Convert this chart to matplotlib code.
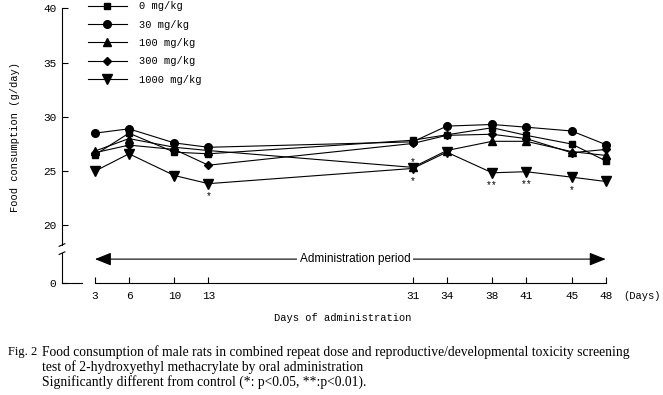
import matplotlib
matplotlib.use("Agg")
import matplotlib.pyplot as plt

# food consumption (g/day), male rats
days = [3, 6, 10, 13, 31, 34, 38, 41, 45, 48]
dose_labels = ["0 mg/kg", "30 mg/kg", "100 mg/kg", "300 mg/kg", "1000 mg/kg"]
food_0 = [26.5, 28.5, 26.75, 26.6, 27.85, 28.35, 29.0, 28.3, 27.5, 25.95]
food_30 = [28.5, 28.9, 27.6, 27.2, 27.7, 29.15, 29.3, 29.05, 28.7, 27.45]
food_100 = [26.85, 28.0, 27.2, 26.9, 25.35, 26.9, 27.75, 27.75, 26.8, 26.45]
food_300 = [26.7, 27.4, 27.0, 25.55, 27.55, 28.3, 28.4, 28.0, 26.7, 27.0]
food_1000 = [25.0, 26.6, 24.6, 23.85, 25.25, 26.75, 24.85, 24.95, 24.45, 24.05]

# significance marks vs control
sig_1000 = {13: "*", 31: "*", 38: "**", 41: "**", 45: "*"}
sig_100 = {31: "*"}

yticks = [20, 25, 30, 35, 40]
y_zero = 14.7      # where the "0" sits below the axis break
arrow_y = 16.9

mono = "Liberation Mono"
serif = "Liberation Serif"

fig = plt.figure(figsize=(6.63, 3.95), dpi=100)
ax = fig.add_axes([62 / 663, 112 / 395, 563 / 663, 274.7 / 395])
ax.set_xlim(0.1, 49.7)
ax.set_ylim(y_zero, 40)

series = [food_0, food_30, food_100, food_300, food_1000]
markers = ["s", "o", "^", "D", "v"]
msizes = [5, 5.5, 6, 4, 7]
for vals, m, ms, lab in zip(series, markers, msizes, dose_labels):
    ax.plot(days, vals, color="black", lw=0.8, marker=m, ms=ms, label=lab)

for d, s in sig_1000.items():
    ax.annotate(s, (d, food_1000[days.index(d)]), xytext=(0, -9),
                textcoords="offset points", ha="center", va="center",
                fontsize=7, family=mono)
for d, s in sig_100.items():
    ax.annotate(s, (d, food_100[days.index(d)]), xytext=(0, 4),
                textcoords="offset points", ha="center", va="center",
                fontsize=7, family=mono)

# axes styling with a broken y axis
for side in ["top", "right"]:
    ax.spines[side].set_visible(False)
ax.spines["left"].set_bounds(18.2, 40)
ax.spines["bottom"].set_bounds(days[0], days[-1])
ax.spines["left"].set_linewidth(0.8)
ax.spines["bottom"].set_linewidth(0.8)
ax.plot([0.1, 0.1], [y_zero, 17.45], color="black", lw=0.8, clip_on=False)
ax.plot([0.1, 1.85], [y_zero, y_zero], color="black", lw=0.8, clip_on=False)
for yb in [18.2, 17.45]:
    ax.plot([-0.15, 0.35], [yb - 0.12, yb + 0.12], color="black", lw=0.8, clip_on=False)

ax.set_yticks(yticks + [y_zero])
ax.set_yticklabels([str(t) for t in yticks] + ["0"])
ax.tick_params(axis="y", direction="in", length=4, width=0.8, pad=4, labelsize=8)
ax.set_xticks(days)
ax.set_xticklabels([str(d) for d in days])
ax.tick_params(axis="x", direction="in", length=4, width=0.8, pad=6, labelsize=8)
for lbl in ax.get_xticklabels() + ax.get_yticklabels():
    lbl.set_family(mono)

ax.set_ylabel("Food consumption (g/day)", family=mono, fontsize=7.5)
ax.yaxis.set_label_coords(-0.074, 0.53)
ax.set_xlabel("Days of administration", family=mono, fontsize=7.5)
ax.xaxis.set_label_coords(0.499, -0.11)
fig.text(623 / 663, 1 - 296 / 395, "(Days)", family=mono, fontsize=7.5, va="center")

# administration period arrow
ax.annotate("", xy=(days[-1], arrow_y), xytext=(days[0], arrow_y),
            arrowprops=dict(arrowstyle="<|-|>,head_length=0.5,head_width=0.2",
                            mutation_scale=20, color="black", lw=0.8,
                            shrinkA=0, shrinkB=0))
ax.text(25.9, arrow_y, "Administration period", ha="center", va="center",
        family="Liberation Sans", fontsize=8.5,
        bbox=dict(facecolor="white", edgecolor="none", pad=2))

leg = ax.legend(loc="upper left", bbox_to_anchor=(88 / 663, 0.997),
                bbox_transform=fig.transFigure, frameon=False, numpoints=1,
                borderpad=0, borderaxespad=0, handlelength=3.7,
                handletextpad=1.2, labelspacing=0.8,
                prop={"family": mono, "size": 7.5})

# caption
cap = dict(family=serif, fontsize=9.8, va="center")
fig.text(8 / 663, 1 - 352 / 395, "Fig. 2", family=serif, fontsize=9, va="center")
fig.text(42.5 / 663, 1 - 352 / 395,
         "Food consumption of male rats in combined repeat dose and "
         "reproductive/developmental toxicity screening", **cap)
fig.text(42.5 / 663, 1 - 367 / 395,
         "test of 2-hydroxyethyl methacrylate by oral administration", **cap)
fig.text(42.5 / 663, 1 - 382 / 395,
         "Significantly different from control (*: p<0.05, **:p<0.01).", **cap)

fig.savefig("out.png", dpi=100)
